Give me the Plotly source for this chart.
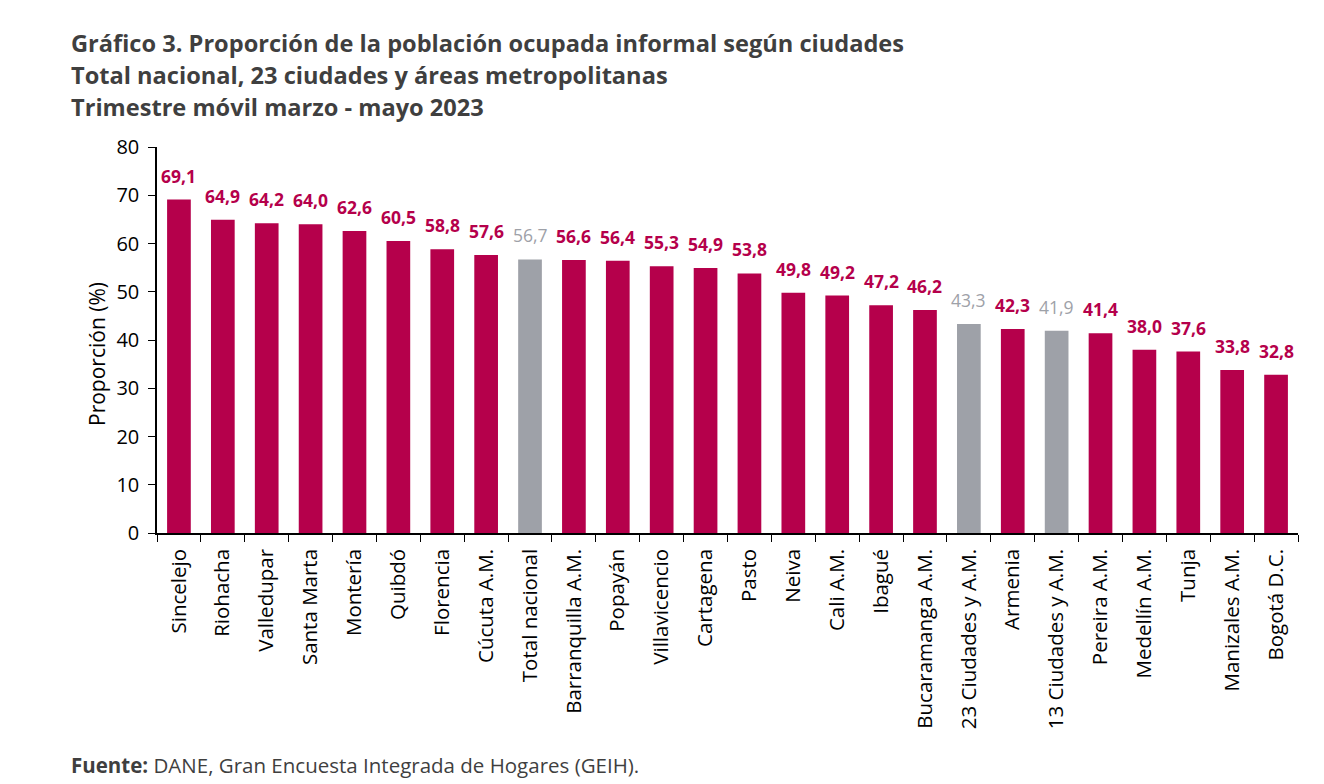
import plotly.graph_objects as go

categories = ["Sincelejo", "Riohacha", "Valledupar", "Santa Marta", "Montería", "Quibdó",
              "Florencia", "Cúcuta A.M.", "Total nacional", "Barranquilla A.M.", "Popayán",
              "Villavicencio", "Cartagena", "Pasto", "Neiva", "Cali A.M.", "Ibagué",
              "Bucaramanga A.M.", "23 Ciudades y A.M.", "Armenia", "13 Ciudades y A.M.",
              "Pereira A.M.", "Medellín A.M.", "Tunja", "Manizales A.M.", "Bogotá D.C."]
values = [69.1, 64.9, 64.2, 64.0, 62.6, 60.5, 58.8, 57.6, 56.7, 56.6, 56.4, 55.3, 54.9,
          53.8, 49.8, 49.2, 47.2, 46.2, 43.3, 42.3, 41.9, 41.4, 38.0, 37.6, 33.8, 32.8]
aggregates = ["Total nacional", "23 Ciudades y A.M.", "13 Ciudades y A.M."]

RED = "#B5004B"
GRAY = "#9EA1A8"
colors = [GRAY if c in aggregates else RED for c in categories]

FONT = "Open Sans"

fig = go.Figure(go.Bar(
    x=categories, y=values, marker=dict(color=colors, line=dict(width=0)),
    hoverinfo="skip",
))

W, H = 1324, 784
L, R, T, B = 157, 26, 147, 251
pw, ph = W - L - R, H - T - B

def px(x):
    return (x - L) / pw

def py(y):
    return (H - B - y) / ph

annos = []
# data labels
for c, v, col in zip(categories, values, colors):
    s = f"{v:.1f}".replace(".", ",")
    if c not in aggregates:
        s = f"<b>{s}</b>"
    annos.append(dict(text=s, x=c, y=v, xref="x", yref="y", xanchor="center", yanchor="bottom",
                      yshift=10, showarrow=False, font=dict(family=FONT, size=17.5, color=col)))

for i, line in enumerate(["Gráfico 3. Proporción de la población ocupada informal según ciudades",
                          "Total nacional, 23 ciudades y áreas metropolitanas",
                          "Trimestre móvil marzo - mayo 2023"]):
    annos.append(dict(text=f"<b>{line}</b>", x=px(69), y=py(43 + 32 * i), xref="paper", yref="paper",
                      xanchor="left", yanchor="middle", showarrow=False,
                      font=dict(family=FONT, size=23.6, color="#3F3F3F")))
annos.append(dict(text="<b>Fuente:</b> DANE, Gran Encuesta Integrada de Hogares (GEIH).",
                  x=px(69), y=py(765), xref="paper", yref="paper", xanchor="left", yanchor="middle",
                  showarrow=False, font=dict(family=FONT, size=20.5, color="#3F3F3F")))
# y-axis title
annos.append(dict(text="Proporción (%)", x=px(97), y=py(354), xref="paper", yref="paper",
                  xanchor="center", yanchor="middle", textangle=-90, showarrow=False,
                  font=dict(family=FONT, size=21, color="#000000")))

fig.update_layout(
    width=W, height=H, margin=dict(l=L, r=R, t=T, b=B),
    paper_bgcolor="white", plot_bgcolor="white",
    bargap=0.46, showlegend=False, annotations=annos,
    font=dict(family=FONT, color="#000000"),
)
fig.update_xaxes(
    type="category", tickangle=-90, tickson="boundaries", ticks="outside", ticklen=7,
    tickcolor="black", showline=True, linecolor="black", linewidth=1.5,
    ticklabelstandoff=6,
    tickfont=dict(family=FONT, size=20.5, color="#000000"), showgrid=False,
)
fig.update_yaxes(
    range=[0, 80], dtick=10, ticks="outside", ticklen=7, tickcolor="black",
    showline=True, linecolor="black", linewidth=1.5, showgrid=False, zeroline=False,
    ticklabelstandoff=5,
    tickfont=dict(family=FONT, size=20, color="#000000"),
)

fig.write_html("out.html")
